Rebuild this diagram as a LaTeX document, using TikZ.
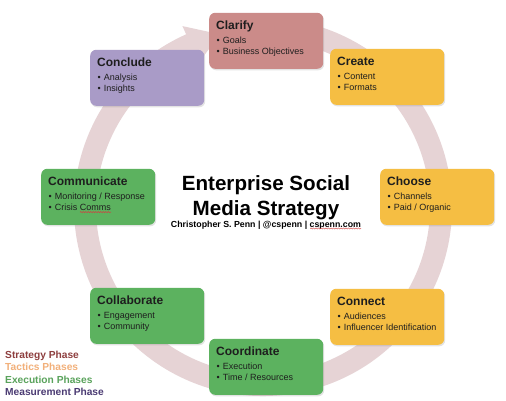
\documentclass[tikz,border=0pt]{standalone}
\usepackage{fontspec}
\setmainfont{Liberation Sans}
\usetikzlibrary{calc,shadows,decorations.pathmorphing}
\definecolor{ringc}{HTML}{E6D3D5}
\definecolor{stratc}{HTML}{CB8B89}
\definecolor{tactc}{HTML}{F5BE43}
\definecolor{execc}{HTML}{5CB25F}
\definecolor{measc}{HTML}{A99BC7}
\definecolor{txt}{HTML}{1E1E1E}
\definecolor{lgstrat}{HTML}{8E3F3F}
\definecolor{lgtact}{HTML}{F2B07A}
\definecolor{lgexec}{HTML}{5AA35C}
\definecolor{lgmeas}{HTML}{4B3B73}
\definecolor{squig}{HTML}{D04040}
\tikzset{
  pbox/.style={draw=none, rounded corners=6pt, minimum width=114pt, minimum height=56pt,
    inner sep=0pt, drop shadow={opacity=0.22, shadow xshift=1pt, shadow yshift=-1.5pt}},
  ptitle/.style={anchor=base west, inner sep=0pt, text=txt, font=\fontsize{12}{14}\selectfont\bfseries},
  pitem/.style={anchor=base west, inner sep=0pt, text=txt, font=\fontsize{9}{11}\selectfont},
  bigtitle/.style={anchor=base, inner sep=0pt, text=black, font=\fontsize{20.6}{25}\selectfont\bfseries},
  subtitle/.style={anchor=base, inner sep=0pt, text=black, font=\fontsize{8.8}{10}\selectfont\bfseries},
  legend/.style={anchor=base west, inner sep=0pt, font=\fontsize{10.2}{12}\selectfont\bfseries},
  ringfill/.style={fill=ringc},
  squiggle/.style={draw=squig, line width=0.5pt, decorate, decoration={snake, amplitude=0.6pt, segment length=2.5pt}}
}
\newcommand{\phasebox}[7]{%
  \node[pbox, fill=#4, anchor=south west] (#1) at (#2,#3) {};
  \node[ptitle] (#1t) at ([shift={(7pt,-17pt)}]#1.north west) {#5};
  \node[pitem] (#1a) at ([shift={(7.5pt,-31pt)}]#1.north west) {•\hspace{3pt}#6};
  \node[pitem] (#1b) at ([shift={(7.5pt,-42pt)}]#1.north west) {•\hspace{3pt}#7};
}
\begin{document}
\begin{tikzpicture}[x=1pt,y=1pt]
\fill[white] (0,0) rectangle (506,400);
\useasboundingbox (0,0) rectangle (506,400);
\coordinate (C) at (263,193);
% ring arrow
\fill[ringfill] ($(C)+(100:189pt)$) arc[start angle=100, end angle=-246, radius=189pt]
  -- ($(C)+(-246:198pt)$) -- ($(C)+(-256:178pt)$) -- ($(C)+(-246:158pt)$)
  -- ($(C)+(-246:167pt)$) arc[start angle=-246, end angle=100, radius=167pt] -- cycle;
% boxes
\phasebox{clarify}{209}{331}{stratc}{Clarify}{Goals}{Business Objectives}
\phasebox{create}{330}{295}{tactc}{Create}{Content}{Formats}
\phasebox{choose}{380}{175}{tactc}{Choose}{Channels}{Paid / Organic}
\phasebox{connect}{330}{55}{tactc}{Connect}{Audiences}{Influencer Identification}
\phasebox{coordinate}{209}{5}{execc}{Coordinate}{Execution}{Time / Resources}
\phasebox{collaborate}{90}{56}{execc}{Collaborate}{Engagement}{Community}
\phasebox{communicate}{41}{175}{execc}{Communicate}{Monitoring / Response}{Crisis Comms}
\phasebox{conclude}{90}{294}{measc}{Conclude}{Analysis}{Insights}
% title
\node[bigtitle] (t1) at (266,210) {Enterprise Social};
\node[bigtitle] (t2) at (266,185) {Media Strategy};
\node[subtitle] (st) at (266,173) {Christopher S. Penn | @cspenn | cspenn.com};
% spell-check squiggles
\draw[squiggle] ([yshift=-1.5pt]communicateb.base east) ++(-31pt,0) -- ++(31pt,0);
\draw[squiggle] ([yshift=-1.5pt]st.base east) ++(-51pt,0) -- ++(51pt,0);
% legend
\node[legend, text=lgstrat] (l1) at (5,42) {Strategy Phase};
\node[legend, text=lgtact] (l2) at (5,29.5) {Tactics Phases};
\node[legend, text=lgexec] (l3) at (5,17) {Execution Phases};
\node[legend, text=lgmeas] (l4) at (5,4.5) {Measurement Phase};
\end{tikzpicture}
\end{document}
